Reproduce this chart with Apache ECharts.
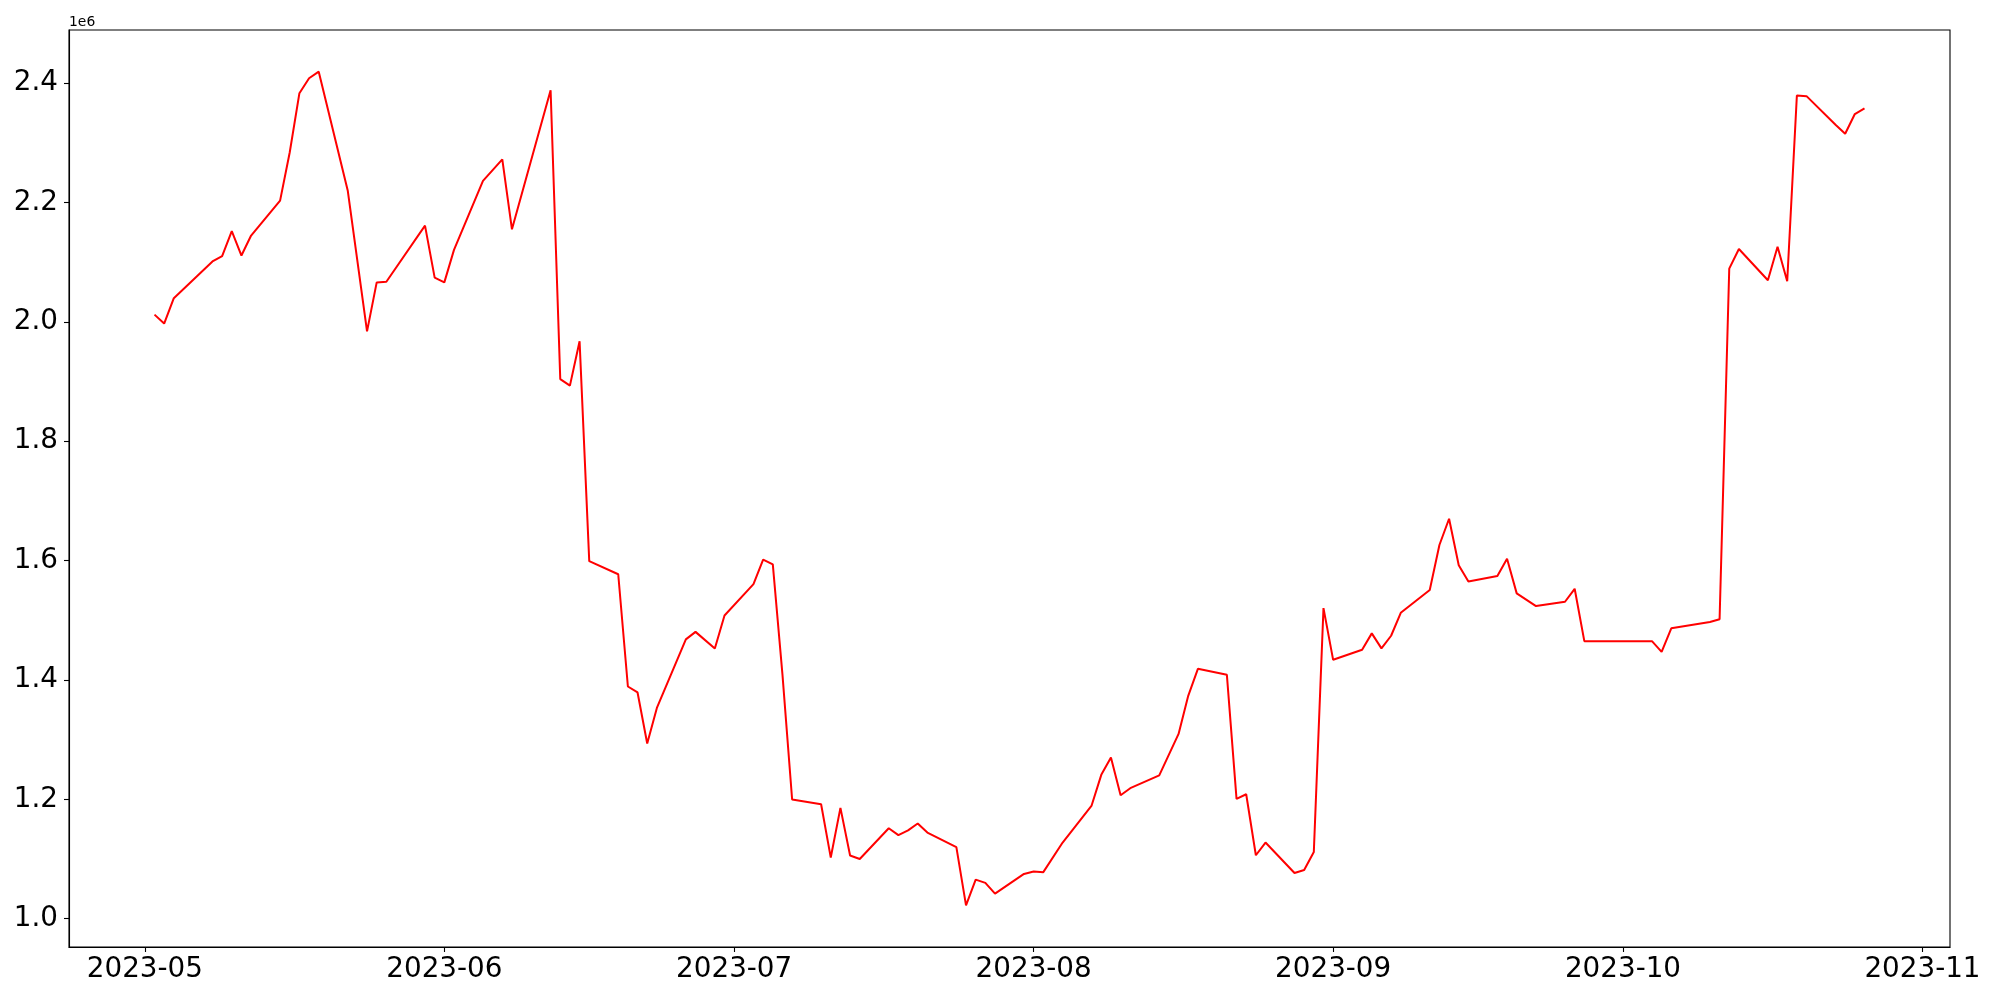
<!DOCTYPE html>
<html>
<head>
<meta charset="utf-8">
<script src="https://cdn.jsdelivr.net/npm/echarts@6.0.0/dist/echarts.min.js"></script>
<style>
html, body { margin: 0; padding: 0; background: #fff; }
#chart { width: 2000px; height: 1000px; }
</style>
</head>
<body>
<div id="chart"></div>
<script>
// ---- data ----
const dates = [
  '2023-05-02','2023-05-03','2023-05-04','2023-05-08','2023-05-09','2023-05-10','2023-05-11','2023-05-12',
  '2023-05-15','2023-05-16','2023-05-17','2023-05-18','2023-05-19','2023-05-22','2023-05-24','2023-05-25',
  '2023-05-26','2023-05-30','2023-05-31','2023-06-01','2023-06-02','2023-06-05','2023-06-07','2023-06-08',
  '2023-06-12','2023-06-13','2023-06-14','2023-06-15','2023-06-16','2023-06-19','2023-06-20','2023-06-21',
  '2023-06-22','2023-06-23','2023-06-26','2023-06-27','2023-06-29','2023-06-30','2023-07-03','2023-07-04',
  '2023-07-05','2023-07-06','2023-07-07','2023-07-10','2023-07-11','2023-07-12','2023-07-13','2023-07-14',
  '2023-07-17','2023-07-18','2023-07-19','2023-07-20','2023-07-21','2023-07-24','2023-07-25','2023-07-26',
  '2023-07-27','2023-07-28','2023-07-31','2023-08-01','2023-08-02','2023-08-04','2023-08-07','2023-08-08',
  '2023-08-09','2023-08-10','2023-08-11','2023-08-14','2023-08-16','2023-08-17','2023-08-18','2023-08-21',
  '2023-08-22','2023-08-23','2023-08-24','2023-08-25','2023-08-28','2023-08-29','2023-08-30','2023-08-31',
  '2023-09-01','2023-09-04','2023-09-05','2023-09-06','2023-09-07','2023-09-08','2023-09-11','2023-09-12',
  '2023-09-13','2023-09-14','2023-09-15','2023-09-18','2023-09-19','2023-09-20','2023-09-22','2023-09-25',
  '2023-09-26','2023-09-27','2023-10-04','2023-10-05','2023-10-06','2023-10-10','2023-10-11','2023-10-12',
  '2023-10-13','2023-10-16','2023-10-17','2023-10-18','2023-10-19','2023-10-20','2023-10-23','2023-10-24',
  '2023-10-25','2023-10-26'
];
const values = [
  2012000,1997000,2039500,2101000,2110000,2152000,2111000,2144500,
  2203000,2284000,2383000,2408000,2419000,2220000,1984000,2066000,
  2067000,2161000,2074000,2066000,2120500,2236000,2272000,2155000,
  2388000,1904000,1893000,1967500,1599000,1577000,1389000,1379000,
  1293500,1353000,1468000,1480500,1452600,1508000,1560600,1601400,
  1593600,1409000,1199700,1191800,1102400,1185600,1105800,1100000,
  1151600,1140000,1148000,1159400,1144300,1120000,1022400,1065500,
  1060000,1042000,1075000,1079000,1078000,1127600,1189600,1241000,
  1270000,1206900,1218600,1240000,1309600,1373300,1418600,1408500,
  1200700,1208500,1106300,1127600,1076600,1081600,1111800,1520400,
  1433700,1450500,1478000,1452800,1474000,1512500,1550600,1626000,
  1670000,1592000,1565000,1574000,1603000,1545000,1523700,1531000,
  1552700,1465000,1465000,1447000,1486500,1497000,1501600,2089000,
  2122000,2069600,2125700,2068000,2379000,2378000,2330000,2315000,
  2348000,2357600
];
const xTickLabels = ['2023-05','2023-06','2023-07','2023-08','2023-09','2023-10','2023-11'];
const yTickValues = [1000000,1200000,1400000,1600000,1800000,2000000,2200000,2400000];

// ---- build ----
function ts(s) { const p = s.split('-').map(Number); return Date.UTC(p[0], p[1] - 1, p[2] || 1); }
const seriesData = dates.map((d, i) => [ts(d), values[i]]);
const xs = seriesData.map(p => p[0]);
const xMinD = Math.min(...xs), xMaxD = Math.max(...xs);
const xPad = (xMaxD - xMinD) * 0.05;
const yMinD = Math.min(...values), yMaxD = Math.max(...values);
const yPad = (yMaxD - yMinD) * 0.05;
const xTickValues = xTickLabels.map(ts);

const FONT = 'DejaVu Sans';
const chart = echarts.init(document.getElementById('chart'), null, { renderer: 'canvas' });
chart.setOption({
  animation: false,
  backgroundColor: '#ffffff',
  grid: {
    left: 69, right: 50, top: 30, bottom: 53,
    show: true, borderColor: '#000000', borderWidth: 1.1, backgroundColor: 'transparent',
    containLabel: false
  },
  xAxis: {
    type: 'value',
    scale: true,
    min: xMinD - xPad,
    max: xMaxD + xPad,
    splitLine: { show: false },
    axisLine: { show: true, onZero: false, lineStyle: { color: '#000', width: 1.1 } },
    axisTick: { show: true, inside: false, length: 5, customValues: xTickValues, lineStyle: { color: '#000', width: 1.1 } },
    axisLabel: {
      customValues: xTickValues,
      color: '#000', fontFamily: FONT, fontSize: 27.8, margin: 9,
      formatter: function (v) {
        const d = new Date(v);
        const m = d.getUTCMonth() + 1;
        return d.getUTCFullYear() + '-' + (m < 10 ? '0' + m : m);
      }
    }
  },
  yAxis: {
    type: 'value',
    scale: true,
    min: yMinD - yPad,
    max: yMaxD + yPad,
    splitLine: { show: false },
    axisLine: { show: true, onZero: false, lineStyle: { color: '#000', width: 1.1 } },
    axisTick: { show: true, inside: false, length: 5, customValues: yTickValues, lineStyle: { color: '#000', width: 1.1 } },
    axisLabel: {
      customValues: yTickValues,
      color: '#000', fontFamily: FONT, fontSize: 27.8, margin: 11,
      padding: [4, 0, 0, 0],
      formatter: function (v) { return (v / 1e6).toFixed(1); }
    }
  },
  graphic: [{
    type: 'text', left: 69, top: 15,
    style: { text: '1e6', fill: '#000', font: '13.9px "DejaVu Sans"' }
  }],
  series: [{
    type: 'line',
    data: seriesData,
    showSymbol: false,
    lineStyle: { color: '#ff0000', width: 2 },
    itemStyle: { color: '#ff0000' }
  }]
});
</script>
</body>
</html>
